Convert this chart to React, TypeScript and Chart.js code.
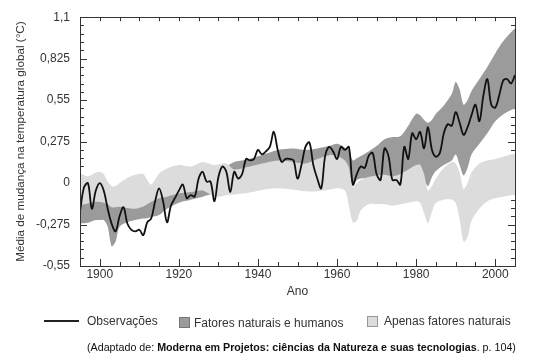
import React, { useEffect, useRef } from "react";
import { Chart, registerables } from "chart.js";

Chart.register(...registerables);

const FONT = "'Liberation Sans', Arial, Helvetica, sans-serif";

// Observations (yearly anomalies, °C)
const obsYears = [
  1895, 1896, 1897, 1898, 1899, 1900, 1901, 1902, 1903, 1904, 1905, 1906, 1907, 1908, 1909,
  1910, 1911, 1912, 1913, 1914, 1915, 1916, 1917, 1918, 1919, 1920, 1921, 1922, 1923, 1924,
  1925, 1926, 1927, 1928, 1929, 1930, 1931, 1932, 1933, 1934, 1935, 1936, 1937, 1938, 1939,
  1940, 1941, 1942, 1943, 1944, 1945, 1946, 1947, 1948, 1949, 1950, 1951, 1952, 1953, 1954,
  1955, 1956, 1957, 1958, 1959, 1960, 1961, 1962, 1963, 1964, 1965, 1966, 1967, 1968, 1969,
  1970, 1971, 1972, 1973, 1974, 1975, 1976, 1977, 1978, 1979, 1980, 1981, 1982, 1983, 1984,
  1985, 1986, 1987, 1988, 1989, 1990, 1991, 1992, 1993, 1994, 1995, 1996, 1997, 1998, 1999,
  2000, 2001, 2002, 2003, 2004, 2005,
];
const obsValues = [
  -0.19, -0.03, 0.0, -0.17, -0.05, 0.0, -0.05, -0.17, -0.27, -0.32, -0.22, -0.16, -0.27, -0.31, -0.32,
  -0.31, -0.345, -0.26, -0.235, -0.12, -0.035, -0.12, -0.26, -0.15, -0.1, -0.05, -0.01, -0.1, -0.08, -0.09,
  0.03, 0.075, 0.01, 0.01, -0.12, 0.04, 0.11, 0.075, -0.06, 0.075, 0.03, 0.06, 0.16, 0.15, 0.16,
  0.22, 0.19, 0.21, 0.24, 0.34, 0.22, 0.14, 0.16, 0.16, 0.15, 0.03, 0.12, 0.24, 0.27, 0.12,
  0.03, -0.035, 0.18, 0.24, 0.21, 0.16, 0.24, 0.22, 0.24, -0.01, 0.06, 0.11, 0.1, 0.18, 0.2,
  0.06, 0.02, 0.23, 0.18, 0.02, 0.02, -0.01, 0.24, 0.16, 0.33, 0.29, 0.34, 0.23, 0.37, 0.22,
  0.175, 0.2, 0.33, 0.39, 0.38, 0.47, 0.4, 0.32, 0.37, 0.45, 0.52, 0.41, 0.58, 0.69, 0.52,
  0.5, 0.58, 0.68, 0.69, 0.66, 0.715,
];

// Model bands (years at which band edges were read)
const bandYears = [
  1895, 1897, 1899, 1900, 1901, 1902, 1903, 1904, 1905, 1907, 1909, 1911, 1912, 1913, 1915,
  1917, 1920, 1923, 1926, 1929, 1932, 1934, 1937, 1941, 1945, 1949, 1952, 1955, 1958, 1960,
  1962, 1963, 1964, 1965, 1966, 1968, 1970, 1972, 1974, 1976, 1978, 1980, 1981, 1982, 1983,
  1984, 1985, 1987, 1989, 1990, 1991, 1992, 1993, 1994, 1996, 1998, 2000, 2002, 2004, 2005,
];
// Natural + human factors
const darkHigh = [
  -0.05, -0.05, -0.05, -0.05, -0.06, -0.08, -0.1, -0.1, -0.1, -0.1, -0.1, -0.09, -0.08, -0.07, -0.05,
  -0.03, 0.0, 0.02, 0.04, 0.07, 0.11, 0.14, 0.155, 0.186, 0.22, 0.23, 0.22, 0.23, 0.245, 0.26,
  0.235, 0.22, 0.15, 0.165, 0.18, 0.21, 0.245, 0.29, 0.305, 0.31, 0.38, 0.46, 0.45, 0.42, 0.4,
  0.42, 0.46, 0.515, 0.59, 0.67, 0.62, 0.52, 0.55, 0.61, 0.69, 0.77, 0.86, 0.94, 1.0, 1.025,
];
const darkLow = [
  -0.267, -0.263, -0.245, -0.245, -0.245, -0.29, -0.42, -0.39, -0.29, -0.26, -0.245, -0.235, -0.234, -0.225, -0.212,
  -0.17, -0.13, -0.11, -0.09, -0.07, -0.05, 0.0, 0.0, 0.02, 0.03, 0.03, 0.03, 0.04, 0.05, 0.06,
  0.05, 0.05, -0.02, 0.02, 0.03, 0.03, 0.02, 0.04, 0.01, 0.0, 0.08, 0.11, 0.12, 0.03, -0.02,
  0.04, 0.08, 0.12, 0.15, 0.19, 0.12, 0.05, 0.1, 0.19, 0.26, 0.33, 0.41, 0.455, 0.485, 0.494,
];
// Natural factors only
const lightHigh = [
  0.064, 0.045, 0.07, 0.075, 0.06, 0.01, -0.02, -0.02, 0.0, 0.035, 0.055, 0.06, 0.02, -0.01, 0.064,
  0.097, 0.12, 0.11, 0.14, 0.12, 0.13, 0.09, 0.105, 0.13, 0.15, 0.14, 0.13, 0.16, 0.185, 0.18,
  0.15, 0.1, -0.03, 0.0, 0.02, 0.04, 0.05, 0.055, 0.045, 0.06, 0.09, 0.12, 0.12, 0.06, -0.05,
  -0.02, 0.03, 0.1, 0.14, 0.13, 0.07, -0.04, 0.0, 0.07, 0.13, 0.15, 0.16, 0.175, 0.19, 0.195,
];
const lightLow = [
  -0.146, -0.135, -0.124, -0.125, -0.13, -0.14, -0.16, -0.16, -0.157, -0.165, -0.17, -0.155, -0.14, -0.124, -0.1,
  -0.09, -0.07, -0.06, -0.05, -0.09, -0.08, -0.075, -0.068, -0.046, -0.035, -0.045, -0.055, -0.055, -0.045, -0.035,
  -0.05, -0.15, -0.26, -0.25, -0.18, -0.14, -0.14, -0.14, -0.15, -0.14, -0.13, -0.12, -0.13, -0.2, -0.265,
  -0.19, -0.13, -0.11, -0.11, -0.13, -0.24, -0.39, -0.36, -0.25, -0.17, -0.12, -0.1, -0.09, -0.08, -0.08,
];

const xTickValues = [1900, 1920, 1940, 1960, 1980, 2000];
const yTickValues = [-0.55, -0.275, 0, 0.275, 0.55, 0.825, 1.1];
const yTickLabels = ["-0,55", "-0,275", "0", "0,275", "0,55", "0,825", "1,1"];

const DARK = "#9b9b9b";
const LIGHT = "#dcdcdc";

const pts = (xs: number[], ys: number[]) => xs.map((x, i) => ({ x, y: ys[i] }));

const tickPlugin = {
  id: "inwardTicks",
  beforeDatasetsDraw(chart: any) {
    const { ctx, chartArea: a, scales } = chart;
    const xs = scales.x;
    const ys = scales.y;
    ctx.save();
    ctx.strokeStyle = "#333";
    ctx.lineWidth = 1;
    ctx.beginPath();
    for (let yr = 1895; yr <= 2005; yr += 5) {
      const px = Math.round(xs.getPixelForValue(yr)) + 0.5;
      const major = yr % 20 === 0;
      ctx.moveTo(px, a.bottom);
      ctx.lineTo(px, a.bottom - (major ? 7 : 4));
      ctx.moveTo(px, a.top);
      ctx.lineTo(px, a.top + 4);
    }
    for (let k = 0; k <= 30; k++) {
      const v = -0.55 + k * 0.055;
      const py = Math.round(ys.getPixelForValue(v)) + 0.5;
      const major = k % 5 === 0;
      ctx.moveTo(a.left, py);
      ctx.lineTo(a.left + (major ? 7 : 4), py);
      ctx.moveTo(a.right, py);
      ctx.lineTo(a.right - (major ? 7 : 4), py);
    }
    ctx.stroke();
    ctx.restore();
  },
  afterDatasetsDraw(chart: any) {
    const { ctx, chartArea: a } = chart;
    ctx.save();
    ctx.strokeStyle = "#333";
    ctx.lineWidth = 1;
    ctx.strokeRect(
      Math.round(a.left) + 0.5,
      Math.round(a.top) + 0.5,
      Math.round(a.right - a.left),
      Math.round(a.bottom - a.top)
    );
    ctx.restore();
  },
};

export default function App() {
  const ref = useRef<HTMLCanvasElement | null>(null);

  useEffect(() => {
    if (!ref.current) return;
    const chart = new Chart(ref.current, {
      type: "line",
      data: {
        datasets: [
          {
            label: "Observações",
            data: pts(obsYears, obsValues),
            borderColor: "#111",
            borderWidth: 1.8,
            pointRadius: 0,
            tension: 0.35,
            fill: false,
            order: 0,
          },
          {
            label: "Apenas fatores naturais",
            data: pts(bandYears, lightHigh),
            borderWidth: 0,
            borderColor: LIGHT,
            backgroundColor: LIGHT,
            pointRadius: 0,
            tension: 0.3,
            fill: 2,
            order: 1,
          },
          {
            label: "light-low",
            data: pts(bandYears, lightLow),
            borderWidth: 0,
            borderColor: LIGHT,
            pointRadius: 0,
            tension: 0.3,
            fill: false,
            order: 1,
          },
          {
            label: "Fatores naturais e humanos",
            data: pts(bandYears, darkHigh),
            borderWidth: 0,
            borderColor: DARK,
            backgroundColor: DARK,
            pointRadius: 0,
            tension: 0.3,
            fill: 4,
            order: 2,
          },
          {
            label: "dark-low",
            data: pts(bandYears, darkLow),
            borderWidth: 0,
            borderColor: DARK,
            pointRadius: 0,
            tension: 0.3,
            fill: false,
            order: 2,
          },
        ],
      },
      options: {
        animation: false,
        responsive: false,
        maintainAspectRatio: false,
        layout: { padding: { left: 0, top: 17, right: 22, bottom: 56 } },
        plugins: {
          legend: { display: false },
          tooltip: { enabled: false },
        },
        scales: {
          x: {
            type: "linear",
            min: 1895,
            max: 2005,
            grid: { display: false, drawTicks: false },
            border: { display: false },
            afterBuildTicks: (s: any) => {
              s.ticks = xTickValues.map((v) => ({ value: v }));
            },
            afterFit: (s: any) => {
              s.height = 34;
            },
            ticks: {
              padding: 1,
              color: "#333",
              font: { family: FONT, size: 12 },
              maxRotation: 0,
              callback: (v: any) => String(v),
            },
            title: {
              display: true,
              text: "Ano",
              color: "#333",
              font: { family: FONT, size: 12 },
              padding: { top: 0, bottom: 1 },
            },
          },
          y: {
            type: "linear",
            min: -0.55,
            max: 1.1,
            grid: { display: false, drawTicks: false },
            border: { display: false },
            afterBuildTicks: (s: any) => {
              s.ticks = yTickValues.map((v) => ({ value: v }));
            },
            afterFit: (s: any) => {
              s.width = 80;
            },
            ticks: {
              padding: 10,
              color: "#333",
              font: { family: FONT, size: 12 },
              callback: (v: any) => {
                const i = yTickValues.findIndex((t) => Math.abs(t - v) < 1e-6);
                return i >= 0 ? yTickLabels[i] : "";
              },
            },
            title: {
              display: true,
              text: "Média de mudança na temperatura global (°C)",
              color: "#333",
              font: { family: FONT, size: 11.7 },
              padding: { top: 14, bottom: 0 },
            },
          },
        },
      },
      plugins: [tickPlugin],
    });
    return () => chart.destroy();
  }, []);

  const text: React.CSSProperties = {
    position: "absolute",
    fontFamily: FONT,
    fontSize: 12,
    color: "#333",
    lineHeight: "14px",
    whiteSpace: "nowrap",
  };

  return (
    <div style={{ position: "fixed", left: 0, top: 0, width: 537, height: 356, background: "#fff" }}>
      <canvas ref={ref} width={537} height={356} style={{ position: "absolute", left: 0, top: 0 }} />
      <div style={{ position: "absolute", left: 44, top: 320, width: 35, height: 1.5, background: "#222" }} />
      <div style={{ ...text, left: 87, top: 314 }}>Observações</div>
      <div
        style={{
          position: "absolute",
          left: 179,
          top: 317,
          width: 9,
          height: 9,
          background: DARK,
          border: "1px solid #777",
        }}
      />
      <div style={{ ...text, left: 194, top: 316 }}>Fatores naturais e humanos</div>
      <div
        style={{
          position: "absolute",
          left: 367,
          top: 316,
          width: 9,
          height: 9,
          background: LIGHT,
          border: "1px solid #999",
        }}
      />
      <div style={{ ...text, left: 384, top: 314 }}>Apenas fatores naturais</div>
      <div style={{ ...text, left: 87, top: 340, fontSize: 10.7, color: "#111" }}>
        (Adaptado de: <b>Moderna em Projetos: ciências da Natureza e suas tecnologias</b>. p. 104)
      </div>
    </div>
  );
}
